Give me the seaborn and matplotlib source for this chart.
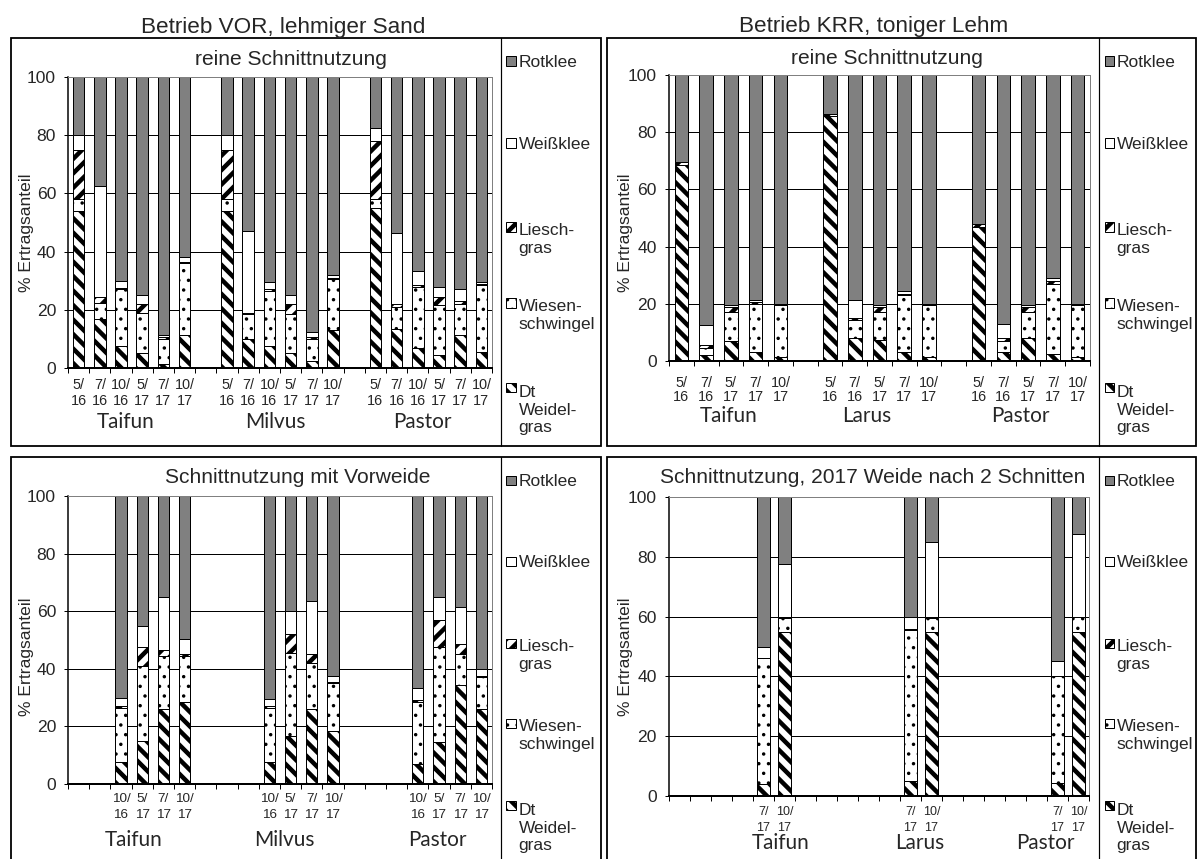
import numpy as np
import matplotlib
matplotlib.use("Agg")
import matplotlib.pyplot as plt
import seaborn as sns
from matplotlib.patches import Rectangle
from matplotlib.lines import Line2D

W, H = 1198, 859
DPI = 174


def pt(px):
    # Pixelmaß -> Punkte bei der gewählten dpi
    return px * 72 / DPI


sns.set_style("white")
plt.rcParams["font.family"] = ["Liberation Sans", "DejaVu Sans"]
GROUP_FONT = ["Lato", "DejaVu Sans"]

# ── Daten: Ertragsanteile (%) je Schnitt ──────────────────────────────────────
groups_vor = ["Taifun", "Milvus", "Pastor"]
groups_krr = ["Taifun", "Larus", "Pastor"]

# Betrieb VOR, reine Schnittnutzung
vor_rein_pos = [0, 1, 2, 3, 4, 5, 7, 8, 9, 10, 11, 12, 14, 15, 16, 17, 18, 19]
vor_rein_lab = ["5/\n16", "7/\n16", "10/\n16", "5/\n17", "7/\n17", "10/\n17"] * 3
vor_rein_weidel = [54, 17, 7.5, 5, 1.5, 11.5, 54, 10, 7.5, 5, 2.5, 13, 55, 13.5, 7, 4.5, 11.5, 5.5]
vor_rein_wiesen = [4, 5.5, 19.5, 14, 8.5, 24.5, 4, 8.5, 19, 13.5, 7.5, 17.5, 3, 7.5, 21, 17, 10.5, 23]
vor_rein_liesch = [17, 2, 0.5, 3, 0.5, 0.5, 17, 0.5, 0.5, 3.5, 0.5, 0.5, 20, 1, 0.5, 3, 1, 0.5]
vor_rein_weiss = [5, 38, 2.5, 3, 1, 1.5, 5, 28, 2.5, 3, 2, 1, 4.5, 24.5, 5, 3.5, 4, 0.5]
vor_rein_rot = [20, 37.5, 70, 75, 88.5, 62, 20, 53, 70.5, 75, 87.5, 68, 17.5, 53.5, 66.5, 72, 73, 70.5]

# Betrieb KRR, reine Schnittnutzung
krr_rein_pos = [0, 1, 2, 3, 4, 6, 7, 8, 9, 10, 12, 13, 14, 15, 16]
krr_rein_lab = ["5/\n16", "7/\n16", "5/\n17", "7/\n17", "10/\n17"] * 3
krr_rein_weidel = [68.5, 2, 7, 3, 1.5, 85.5, 8, 7.5, 3, 1.5, 47, 3, 8, 2.5, 1.5]
krr_rein_wiesen = [0, 2.5, 10, 17, 18, 0, 6.5, 9.5, 20, 18, 0, 4, 9, 24.5, 18]
krr_rein_liesch = [1, 1, 2, 0.5, 0.2, 1, 0.5, 2, 0.5, 0.2, 1, 1, 2, 1, 0.2]
krr_rein_weiss = [0, 7, 0.5, 1, 0.3, 0, 6.5, 0.5, 1, 0.3, 0, 5, 0.5, 1, 0.3]
krr_rein_rot = [30.5, 87.5, 80.5, 78.5, 80, 13.5, 78.5, 80.5, 75.5, 80, 52, 87, 80.5, 71, 80]

# Betrieb VOR, Schnittnutzung mit Vorweide
vor_vw_pos = [2, 3, 4, 5, 9, 10, 11, 12, 16, 17, 18, 19]
vor_vw_lab = ["10/\n16", "5/\n17", "7/\n17", "10/\n17"] * 3
vor_vw_weidel = [7.5, 15, 26, 28.5, 7.5, 16.5, 26, 18.5, 7, 14.5, 34.5, 26]
vor_vw_wiesen = [19, 26, 18.5, 16, 19, 29, 16, 16.5, 21.5, 33, 10.5, 11]
vor_vw_liesch = [0.5, 6.5, 2, 0.5, 0.5, 6.5, 3, 0.5, 0.5, 9.5, 3.5, 0.5]
vor_vw_weiss = [3, 7.5, 18.5, 5.5, 2.5, 8, 18.5, 2, 4.5, 8, 13, 2.5]
vor_vw_rot = [70, 45, 35, 49.5, 70.5, 40, 36.5, 62.5, 66.5, 35, 38.5, 60]

# Betrieb KRR, Schnittnutzung, 2017 Weide nach 2 Schnitten
krr_wd_pos = [4, 5, 11, 12, 18, 19]
krr_wd_lab = ["7/\n17", "10/\n17"] * 3
krr_wd_weidel = [4, 55, 5, 55, 4.5, 55]
krr_wd_wiesen = [42, 4.5, 50.5, 4.5, 35.5, 5]
krr_wd_liesch = [0, 0.5, 0.5, 0.5, 0, 0]
krr_wd_weiss = [4, 17.5, 4, 25, 5, 27.5]
krr_wd_rot = [50, 22.5, 40, 15, 55, 12.5]

# Segmente von unten nach oben: Name, Füllung, Schraffur, Schraffur-Linienbreite (px)
LAYERS = [
    ("Dt\nWeidel-\ngras", "white", "\\\\\\\\", 4.5),
    ("Wiesen-\nschwingel", "white", "...", 1.5),
    ("Liesch-\ngras", "white", "////", 4.5),
    ("Weißklee", "white", None, 1.0),
    ("Rotklee", "#808080", None, 1.0),
]

PANELS = [
    dict(rect=(68, 77, 492, 368), n=20, pos=vor_rein_pos, lab=vor_rein_lab,
         parts=[vor_rein_weidel, vor_rein_wiesen, vor_rein_liesch, vor_rein_weiss, vor_rein_rot],
         width=0.55, groups=groups_vor, gx=(2.2, 9.3, 16.2), gy=-0.186,
         xfs=14.4, ls=1.2, xpad=10, ylab=(-0.080, 0.464),
         sub="reine Schnittnutzung", sub_xy=(291, 65),
         frame=(11, 38, 601, 446), div=501, leg_y=(61, 143, 227, 303, 387)),
    dict(rect=(669, 75, 1090, 361), n=17, pos=krr_rein_pos, lab=krr_rein_lab,
         parts=[krr_rein_weidel, krr_rein_wiesen, krr_rein_liesch, krr_rein_weiss, krr_rein_rot],
         width=0.55, groups=groups_krr, gx=(1.9, 7.5, 13.7), gy=-0.194,
         xfs=14.4, ls=1.0, xpad=15, ylab=(-0.0855, 0.448),
         sub="reine Schnittnutzung", sub_xy=(887, 64),
         frame=(607, 38, 1196, 446), div=1099, leg_y=(61, 143, 227, 303, 387)),
    dict(rect=(68, 496, 492, 784), n=20, pos=vor_vw_pos, lab=vor_vw_lab,
         parts=[vor_vw_weidel, vor_vw_wiesen, vor_vw_liesch, vor_vw_weiss, vor_vw_rot],
         width=0.52, groups=groups_vor, gx=(2.6, 9.7, 16.9), gy=-0.194,
         xfs=13.5, ls=1.45, xpad=9, ylab=(-0.080, 0.441),
         sub="Schnittnutzung mit Vorweide", sub_xy=(298, 483),
         frame=(11, 457, 601, 875), div=501, leg_y=(480, 561, 643, 723, 805)),
    dict(rect=(669, 497, 1089, 796), n=20, pos=krr_wd_pos, lab=krr_wd_lab,
         parts=[krr_wd_weidel, krr_wd_wiesen, krr_wd_liesch, krr_wd_weiss, krr_wd_rot],
         width=0.6, groups=groups_krr, gx=(4.8, 11.45, 17.4), gy=-0.157,
         xfs=12.5, ls=1.4, xpad=10, ylab=(-0.0857, 0.465),
         sub="Schnittnutzung, 2017 Weide nach 2 Schnitten", sub_xy=(873, 483),
         frame=(607, 457, 1196, 875), div=1099, leg_y=(480, 561, 643, 723, 805)),
]

LEG_FS = 17.4      # px
LEG_LINE = 19.5    # px Zeilenabstand in der Legende

fig = plt.figure(figsize=(W / DPI, H / DPI), dpi=DPI, facecolor="white")


def set_hatch_lw(patch, lw_px):
    if hasattr(patch, "set_hatch_linewidth"):
        patch.set_hatch_linewidth(pt(lw_px))


def draw_legend(div_x, ys):
    for k, y in zip(range(4, -1, -1), ys):
        name, color, hatch, hlw = LAYERS[k]
        plt.rcParams["hatch.linewidth"] = pt(hlw)
        sq = Rectangle(((div_x + 5.5) / W, 1 - (y + 4.5) / H), 9 / W, 9 / H,
                       transform=fig.transFigure, facecolor=color, edgecolor="black",
                       linewidth=pt(1), hatch=hatch)
        set_hatch_lw(sq, hlw)
        fig.add_artist(sq)
        # va="baseline" richtet die letzte Zeile aus -> Grundlinie der letzten Zeile
        n_lines = name.count("\n") + 1
        base = y + 6.2 + (n_lines - 1) * LEG_LINE
        fig.text((div_x + 17.5) / W, 1 - base / H, name, ha="left", va="baseline",
                 fontsize=pt(LEG_FS))


for cfg in PANELS:
    l, t, r, b = cfg["rect"]
    ax = fig.add_axes([l / W, 1 - b / H, (r - l) / W, (b - t) / H])

    # gestapelte Balken: kumulierte Höhen, von oben nach unten übereinander gezeichnet
    cum = np.cumsum(np.array(cfg["parts"], dtype=float), axis=0)
    for k in range(4, -1, -1):
        name, color, hatch, hlw = LAYERS[k]
        plt.rcParams["hatch.linewidth"] = pt(hlw)
        n0 = len(ax.patches)
        sns.barplot(x=cfg["pos"], y=cum[k], orient="x", native_scale=True,
                    width=cfg["width"], color=color, saturation=1, errorbar=None,
                    hatch=hatch, edgecolor="black", linewidth=pt(1), ax=ax)
        for p in ax.patches[n0:]:
            set_hatch_lw(p, hlw)

    n = cfg["n"]
    ax.set_xlim(-0.5, n - 0.5)
    ax.set_ylim(0, 100)
    ax.set_yticks(range(0, 101, 20))
    ax.set_xticks(cfg["pos"], cfg["lab"], fontsize=pt(cfg["xfs"]), linespacing=cfg["ls"])
    ax.set_xticks(np.arange(-0.5, n, 1), minor=True)
    ax.tick_params(axis="x", which="major", bottom=True, length=0, pad=pt(cfg["xpad"]))
    ax.tick_params(axis="x", which="minor", bottom=True, length=pt(5), width=pt(1),
                   direction="out", color="black")
    ax.tick_params(axis="y", left=True, length=pt(4), width=pt(1), direction="out",
                   color="black", labelsize=pt(17.5), pad=pt(8))

    ax.yaxis.grid(True, color="black", linewidth=pt(1))
    ax.xaxis.grid(False)
    ax.set_axisbelow(True)
    ax.get_ygridlines()[-1].set_color("#808080")

    for s in ("top", "right"):
        ax.spines[s].set(color="#808080", linewidth=pt(1), visible=True)
    ax.spines["left"].set(color="black", linewidth=pt(1.5))
    ax.spines["bottom"].set(color="black", linewidth=pt(2))

    ax.set_xlabel("")
    ax.set_ylabel("% Ertragsanteil", fontsize=pt(17.5))
    ax.yaxis.set_label_coords(*cfg["ylab"])

    for g, gx in zip(cfg["groups"], cfg["gx"]):
        ax.text(gx, cfg["gy"], g, transform=ax.get_xaxis_transform(), ha="center",
                va="center", fontsize=pt(20.8), family=GROUP_FONT)

    sx, sy = cfg["sub_xy"]
    fig.text(sx / W, 1 - sy / H, cfg["sub"], ha="center", va="baseline", fontsize=pt(21))

    # Rahmen und Legendenfeld
    fl, ft, fr, fb = cfg["frame"]
    fig.add_artist(Rectangle((fl / W, 1 - fb / H), (fr - fl) / W, (fb - ft) / H,
                             transform=fig.transFigure, fill=False, edgecolor="black",
                             linewidth=pt(1.8)))
    fig.add_artist(Line2D([cfg["div"] / W] * 2, [1 - ft / H, 1 - min(fb, H + 10) / H],
                          transform=fig.transFigure, color="black", linewidth=pt(1.2)))
    draw_legend(cfg["div"], cfg["leg_y"])

fig.text(283 / W, 1 - 32.5 / H, "Betrieb VOR, lehmiger Sand", ha="center", va="baseline",
         fontsize=pt(22.5))
fig.text(874 / W, 1 - 32 / H, "Betrieb KRR, toniger Lehm", ha="center", va="baseline",
         fontsize=pt(22.5))

fig.savefig("out.png", dpi=DPI, facecolor="white")
